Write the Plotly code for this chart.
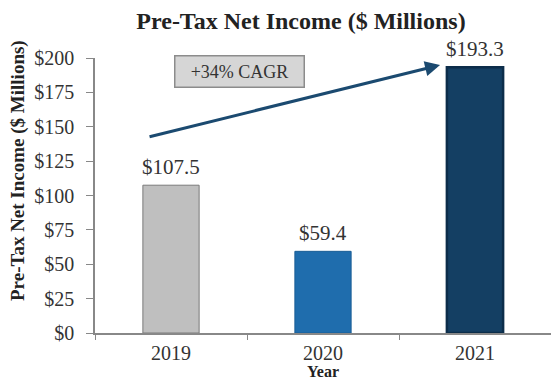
import plotly.graph_objects as go

years = ["2019", "2020", "2021"]
income = [107.5, 59.4, 193.3]
labels = ["$107.5", "$59.4", "$193.3"]
bar_colors = ["#BFBFBF", "#1F6DAD", "#143F63"]
edge_colors = ["#7A7A7A", "#1A5E96", "#0C2D4A"]
y_ticks = [0, 25, 50, 75, 100, 125, 150, 175, 200]
y_tick_text = ["$0", "$25", "$50", "$75", "$100", "$125", "$150", "$175", "$200"]

FONT = "Liberation Serif, Times New Roman, serif"

fig = go.Figure()
fig.add_trace(go.Bar(
    x=years, y=income, width=0.37,
    marker=dict(color=bar_colors, line=dict(color=edge_colors, width=[1, 1, 2.5])),
    showlegend=False,
))

# value labels (category index positions)
for i, (val, lab) in enumerate(zip(income, labels)):
    fig.add_annotation(x=i, y=val, xref="x", yref="y", text=lab, showarrow=False,
                       xanchor="center", yanchor="bottom", yshift=4,
                       font=dict(family=FONT, size=21, color="#333333"))

fig.update_layout(
    width=551, height=381,
    margin=dict(l=95, r=0, t=58, b=48),
    plot_bgcolor="white", paper_bgcolor="white",
    font=dict(family=FONT, size=19, color="#333333"),
    title=dict(text="<b>Pre-Tax Net Income ($ Millions)</b>", x=301 / 551,
               xanchor="center", y=1 - 21 / 381, yanchor="middle", yref="container",
               font=dict(family=FONT, size=24, color="#222222")),
    xaxis=dict(type="category", range=[-0.5, 2.5], showline=True, linecolor="#888888",
               linewidth=1.5, ticks="outside", tickson="boundaries", ticklen=5,
               tickcolor="#888888", tickfont=dict(family=FONT, size=20, color="#333333"),
               ticklabelstandoff=1, showgrid=False),
    yaxis=dict(range=[0, 200], tickvals=y_ticks, ticktext=y_tick_text, showline=True,
               linecolor="#888888", linewidth=1.5, ticks="outside", ticklen=7,
               tickcolor="#888888", tickfont=dict(family=FONT, size=20, color="#333333"),
               ticklabelstandoff=8, showgrid=False, zeroline=False),
    bargap=0.6,
)

# y-axis title
fig.add_annotation(text="<b>Pre-Tax Net Income ($ Millions)</b>", xref="paper", yref="paper",
                   x=(18 - 95) / 456, y=(333 - 171) / 275, textangle=-90, showarrow=False,
                   xanchor="center", yanchor="middle",
                   font=dict(family=FONT, size=19, color="#222222"))
# x-axis title
fig.add_annotation(text="<b>Year</b>", xref="x", yref="paper", x=1, y=-(371 - 333) / 275,
                   showarrow=False, xanchor="center", yanchor="middle", borderpad=0,
                   font=dict(family=FONT, size=16, color="#222222"))

# CAGR arrow
fig.add_annotation(x=1.770, y=194.9, ax=-0.151, ay=142.5, xref="x", yref="y",
                   axref="x", ayref="y", showarrow=True, arrowhead=2, arrowsize=1,
                   arrowwidth=3, arrowcolor="#1B4A70", text="")
# CAGR box
fig.add_annotation(text="+34% CAGR", xref="paper", yref="paper",
                   x=(239 - 95) / 456, y=(333 - 71.5) / 275, showarrow=False,
                   xanchor="center", yanchor="middle", bgcolor="#D6D6D6",
                   bordercolor="#8C8C8C", borderwidth=1.5, borderpad=5, width=118,
                   font=dict(family=FONT, size=18, color="#333333"))

fig.write_html("out.html")
